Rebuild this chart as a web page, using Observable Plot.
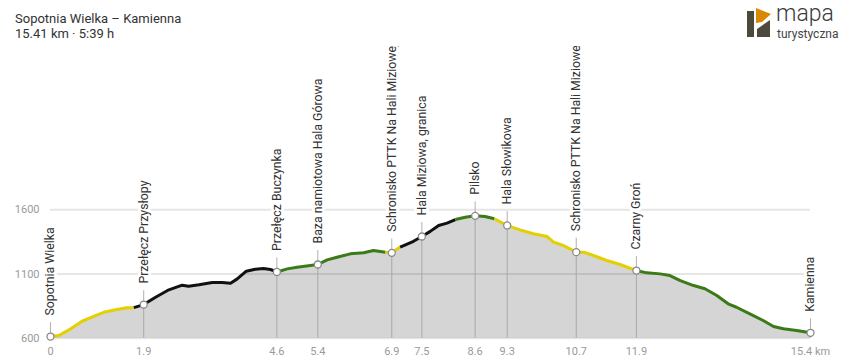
<!DOCTYPE html>
<html>
<head>
<meta charset="utf-8">
<script src="https://cdn.jsdelivr.net/npm/d3@7"></script>
<script src="https://cdn.jsdelivr.net/npm/@observablehq/plot@0.6"></script>
<style>
  body { margin: 0; background: #fff; font-family: Roboto, "Noto Sans", sans-serif; }
  #wrap { position: relative; width: 850px; height: 362px; overflow: hidden; background: #fff; }
  #head { position: relative; height: 46px; }
  .t { position: absolute; left: 15px; font-size: 13px; line-height: 15px; color: #333; white-space: nowrap; }
  #logo { position: absolute; left: 740px; top: 0; }
  #chart svg { display: block; overflow: hidden; }
</style>
</head>
<body>
<div id="wrap">
  <div id="head">
    <div class="t" style="top:11px">Sopotnia Wielka – Kamienna</div>
    <div class="t" style="top:26px">15.41 km · 5:39 h</div>
    <svg id="logo" width="110" height="45">
      <rect x="7" y="11" width="7" height="26" fill="#4b4a3b"></rect>
      <polygon points="16,8 31,14 22,22 16,23" fill="#d98900"></polygon>
      <polygon points="17,29 30,20 30,37 17,37" fill="#4b4a3b"></polygon>
      <text x="36" y="21" font-size="23" font-weight="300" fill="#3b3b3b" font-family="Roboto">mapa</text>
      <text x="37" y="37.5" font-size="12" fill="#444" font-family="Roboto">turystyczna</text>
    </svg>
  </div>
  <div id="chart"></div>
</div>
<script>
// Elevation profile (distance km, elevation m)
const km = [0,0.17,0.41,0.64,0.84,1.08,1.32,1.55,1.69,1.89,2.13,2.40,2.67,2.80,3.01,3.28,3.48,3.65,3.78,3.97,4.15,4.32,4.46,4.59,4.80,5.00,5.27,5.42,5.61,5.81,6.08,6.35,6.55,6.79,6.92,7.09,7.36,7.53,7.70,7.87,8.04,8.21,8.41,8.61,8.81,9.00,9.26,9.52,9.79,10.07,10.20,10.40,10.66,10.81,11.01,11.28,11.55,11.88,12.09,12.36,12.56,12.77,13.04,13.27,13.51,13.74,13.91,14.18,14.45,14.66,14.86,15.13,15.41];
const elev = [613,621,673,732,764,802,821,837,838,862,919,977,1013,1005,1016,1034,1034,1028,1060,1122,1137,1143,1135,1116,1140,1153,1166,1174,1210,1231,1257,1265,1283,1270,1265,1310,1355,1392,1432,1478,1496,1524,1542,1553,1548,1530,1478,1444,1413,1392,1348,1322,1270,1270,1244,1205,1174,1127,1109,1101,1088,1049,1010,985,933,868,841,790,738,691,673,660,642];

// Trail colour segments
const segStart = [0, 1.69, 4.59, 6.79, 7.09, 8.21, 9.00, 11.88];
const segEnd   = [1.69, 4.59, 6.79, 7.09, 8.21, 9.00, 11.88, 15.41];
const segColor = ["#e4cf00", "#111111", "#3a7a17", "#e4cf00", "#111111", "#3a7a17", "#e4cf00", "#3a7a17"];

// Waypoints
const wpName = ["Sopotnia Wielka","Przełęcz Przysłopy","Przełęcz Buczynka","Baza namiotowa Hala Górowa","Schronisko PTTK Na Hali Miziowej","Hala Miziowa, granica","Pilsko","Hala Słowikowa","Schronisko PTTK Na Hali Miziowej","Czarny Groń","Kamienna"];
const wpKm = [0, 1.89, 4.59, 5.42, 6.92, 7.53, 8.61, 9.26, 10.66, 11.88, 15.41];
const wpElev = [613, 862, 1116, 1174, 1265, 1392, 1553, 1478, 1270, 1127, 642];
const xTickLabels = ["0","1.9","4.6","5.4","6.9","7.5","8.6","9.3","10.7","11.9","15.4 km"];

const yTicks = [600, 1100, 1600];
const yTickLabels = ["600", "1100", "1600"];

const profile = km.map((k, i) => ({km: k, elev: elev[i]}));
const segRows = [];
segStart.forEach((s, j) => {
  profile.filter(p => p.km >= s && p.km <= segEnd[j]).forEach(p => segRows.push({...p, seg: j, color: segColor[j]}));
});
const waypoints = wpName.map((n, i) => ({name: n, km: wpKm[i], elev: wpElev[i], tick: xTickLabels[i]}));
const yRows = yTicks.map((v, i) => ({v, label: yTickLabels[i]}));

const chart = Plot.plot({
  width: 850,
  height: 316,
  marginLeft: 50,
  marginRight: 40,
  x: {domain: [0, 15.41], axis: null},
  y: {domain: [600, 1600], range: [291.7, 163.3], axis: null},
  style: {fontFamily: "Roboto, sans-serif", overflow: "hidden", background: "#fff"},
  marks: [
    Plot.ruleY(yTicks, {y: d => d, x1: 0, x2: 15.41, stroke: "#e6e6e6", strokeWidth: 2}),
    Plot.areaY(profile, {x: "km", y1: 600, y2: "elev", fill: "#000", fillOpacity: 0.165}),
    Plot.ruleX(waypoints, {x: "km", y1: 600, y2: "elev", stroke: "#a8a8a8", strokeWidth: 1}),
    Plot.vector(waypoints, {x: "km", y: "elev", length: 14, rotate: 0, anchor: "start", stroke: "#b0b0b0", strokeWidth: 1,
      shape: {draw(ctx, l) { ctx.moveTo(0, 0); ctx.lineTo(0, -l); }}}),
    Plot.line(segRows, {x: "km", y: "elev", z: "seg", stroke: "color", strokeWidth: 3, strokeLinejoin: "round", strokeLinecap: "butt"}),
    Plot.dot(waypoints, {x: "km", y: "elev", r: 3.5, fill: "white", stroke: "#8a8a8a", strokeWidth: 1.3}),
    Plot.text(waypoints, {x: "km", y: "elev", text: "name", rotate: -90, textAnchor: "start", lineAnchor: "middle", dy: -21,
      fontSize: 12.3, fill: "#333", stroke: "white", strokeWidth: 6}),
    Plot.text(waypoints, {x: "km", y: 600, text: "tick", dy: 13.5, fontSize: 11, fill: "#9a9a9a", lineAnchor: "middle"}),
    Plot.text(yRows, {x: 0, y: "v", text: "label", dx: -11, textAnchor: "end", lineAnchor: "middle", fontSize: 11, fill: "#9a9a9a"})
  ]
});
document.getElementById("chart").appendChild(chart);
</script>
</body>
</html>
